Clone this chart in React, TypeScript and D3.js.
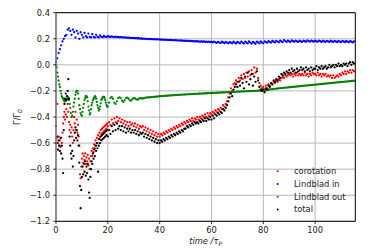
import React from 'react'
import * as d3 from 'd3'

const W = 374
const H = 249
const margin = { left: 56, right: 18.7, top: 12.7, bottom: 27.7 }

// sampling of the torque outputs (time in orbits)
const step = 0.5
const earlyStep = 0.25
const lateStart = 20

const lindbladIn = [
  0.00, 0.05, 0.09, 0.12, 0.15, 0.18, 0.20, 0.22, 0.23, 0.27,
  0.28, 0.26, 0.23, 0.27, 0.25, 0.21, 0.26, 0.24, 0.20, 0.25,
  0.23, 0.21, 0.245, 0.22, 0.21, 0.24, 0.215, 0.21, 0.235, 0.215,
  0.21, 0.23, 0.215, 0.21, 0.225, 0.215, 0.212, 0.222, 0.215, 0.214,
  0.22, 0.216, 0.214, 0.218, 0.215, 0.213, 0.216, 0.212, 0.214, 0.211,
  0.213, 0.21, 0.211, 0.209, 0.21, 0.207, 0.209, 0.206, 0.207, 0.205,
  0.206, 0.204, 0.205, 0.202, 0.204, 0.201, 0.202, 0.2, 0.201, 0.199,
  0.2, 0.198, 0.199, 0.197, 0.198, 0.196, 0.197, 0.195, 0.196, 0.195,
  0.195, 0.193, 0.194, 0.192, 0.193, 0.191, 0.192, 0.19, 0.191, 0.189,
  0.19, 0.188, 0.189, 0.187, 0.188, 0.186, 0.187, 0.185, 0.186, 0.184,
  0.185, 0.183, 0.184, 0.182, 0.183, 0.181, 0.182, 0.18, 0.181, 0.179,
  0.18, 0.178, 0.18, 0.177, 0.179, 0.176, 0.178, 0.175, 0.178, 0.175,
  0.177, 0.172, 0.178, 0.173, 0.168, 0.176, 0.171, 0.167, 0.177, 0.172,
  0.166, 0.176, 0.171, 0.165, 0.175, 0.17, 0.166, 0.177, 0.171, 0.164,
  0.176, 0.17, 0.165, 0.178, 0.171, 0.163, 0.177, 0.17, 0.165, 0.179,
  0.171, 0.163, 0.176, 0.17, 0.162, 0.178, 0.172, 0.164, 0.179, 0.171,
  0.165, 0.18, 0.175, 0.17, 0.182, 0.176, 0.171, 0.183, 0.177, 0.172,
  0.184, 0.178, 0.173, 0.185, 0.179, 0.175, 0.19, 0.182, 0.176, 0.186,
  0.18, 0.176, 0.187, 0.181, 0.177, 0.186, 0.18, 0.176, 0.185, 0.18,
  0.176, 0.186, 0.181, 0.177, 0.187, 0.182, 0.178, 0.186, 0.181, 0.178,
  0.185, 0.18, 0.177, 0.186, 0.181, 0.176, 0.185, 0.18, 0.176, 0.184,
  0.18, 0.176, 0.185, 0.179, 0.175, 0.184, 0.179, 0.174, 0.183, 0.178,
  0.174, 0.184, 0.179, 0.174, 0.183, 0.178, 0.173, 0.182, 0.177, 0.172, 0.18,
]

// first 20 orbits every 0.25, then every 0.5
const lindbladOutEarly = [
  0.02, -0.02, -0.06, -0.09, -0.12, -0.15, -0.17, -0.20, -0.22, -0.24,
  -0.25, -0.26, -0.27, -0.28, -0.28, -0.275, -0.27, -0.26, -0.26, -0.25,
  -0.27, -0.30, -0.33, -0.37, -0.40, -0.39, -0.36, -0.32, -0.29, -0.26,
  -0.23, -0.21, -0.20, -0.20, -0.22, -0.26, -0.31, -0.34, -0.37, -0.385,
  -0.39, -0.36, -0.33, -0.30, -0.27, -0.255, -0.24, -0.24, -0.25, -0.28,
  -0.32, -0.35, -0.38, -0.37, -0.34, -0.31, -0.29, -0.27, -0.26, -0.25,
  -0.24, -0.245, -0.26, -0.285, -0.31, -0.33, -0.35, -0.34, -0.32, -0.295,
  -0.27, -0.26, -0.25, -0.245, -0.245, -0.255, -0.27, -0.29, -0.31, -0.32,
]

const lindbladOutLate = [
  -0.32, -0.29, -0.255, -0.245, -0.26, -0.29, -0.30, -0.28, -0.255, -0.25,
  -0.255, -0.275, -0.285, -0.27, -0.255, -0.252, -0.26, -0.272, -0.275, -0.262,
  -0.255, -0.258, -0.265, -0.267, -0.26, -0.255, -0.256, -0.258, -0.255, -0.252,
  -0.251, -0.25, -0.249, -0.248, -0.247, -0.246, -0.245, -0.244, -0.243, -0.242,
  -0.241, -0.24, -0.24, -0.239, -0.238, -0.237, -0.237, -0.236, -0.235, -0.234,
  -0.234, -0.233, -0.232, -0.232, -0.231, -0.23, -0.23, -0.229, -0.228, -0.228,
  -0.227, -0.226, -0.226, -0.225, -0.225, -0.224, -0.223, -0.223, -0.222, -0.222,
  -0.221, -0.221, -0.22, -0.22, -0.219, -0.219, -0.218, -0.218, -0.217, -0.217,
  -0.216, -0.216, -0.215, -0.215, -0.214, -0.214, -0.213, -0.213, -0.212, -0.212,
  -0.211, -0.211, -0.21, -0.21, -0.209, -0.209, -0.208, -0.208, -0.207, -0.207,
  -0.206, -0.206, -0.205, -0.205, -0.204, -0.204, -0.203, -0.203, -0.202, -0.202,
  -0.201, -0.201, -0.2, -0.2, -0.199, -0.199, -0.198, -0.198, -0.197, -0.196,
  -0.195, -0.194, -0.193, -0.192, -0.19, -0.189, -0.188, -0.187, -0.185, -0.184,
  -0.183, -0.182, -0.18, -0.179, -0.178, -0.177, -0.176, -0.175, -0.174, -0.173,
  -0.172, -0.171, -0.17, -0.169, -0.168, -0.167, -0.166, -0.165, -0.164, -0.163,
  -0.162, -0.161, -0.16, -0.159, -0.158, -0.157, -0.156, -0.155, -0.154, -0.153,
  -0.152, -0.151, -0.15, -0.149, -0.148, -0.147, -0.146, -0.145, -0.144, -0.143,
  -0.142, -0.141, -0.14, -0.139, -0.138, -0.137, -0.136, -0.135, -0.134, -0.133,
  -0.132, -0.131, -0.13, -0.129, -0.128, -0.127, -0.126, -0.125, -0.124, -0.123, -0.122,
]

const corotationEarly = [
  -0.28, -0.56, -0.30, -0.60, -0.55, -0.62, -0.58, -0.63, -0.56, -0.60,
  -0.52, -0.45, -0.40, -0.36, -0.42, -0.38, -0.34, -0.40, -0.30, -0.36,
  -0.44, -0.50, -0.46, -0.52, -0.48, -0.55, -0.60, -0.50, -0.40, -0.45,
  -0.36, -0.50, -0.42, -0.52, -0.46, -0.55, -0.62, -0.84, -0.87, -0.78,
  -0.72, -0.68, -0.75, -0.70, -0.73, -0.68, -0.76, -0.71, -0.74, -0.69,
  -0.77, -0.72, -0.80, -0.74, -0.70, -0.66, -0.70, -0.64, -0.67, -0.61,
  -0.64, -0.58, -0.62, -0.56, -0.60, -0.54, -0.57, -0.52, -0.55, -0.50,
  -0.53, -0.49, -0.52, -0.48, -0.51, -0.47, -0.50, -0.46, -0.49, -0.45,
]

const corotationLate = [
  -0.47, -0.44, -0.46, -0.42, -0.45, -0.41, -0.44, -0.40, -0.43, -0.41,
  -0.44, -0.42, -0.45, -0.43, -0.46, -0.44, -0.47, -0.44, -0.46, -0.45,
  -0.47, -0.45, -0.48, -0.46, -0.49, -0.47, -0.48, -0.47, -0.50, -0.48,
  -0.51, -0.49, -0.52, -0.50, -0.53, -0.51, -0.54, -0.52, -0.55, -0.53,
  -0.55, -0.53, -0.54, -0.52, -0.53, -0.51, -0.52, -0.50, -0.51, -0.49,
  -0.50, -0.48, -0.49, -0.47, -0.48, -0.46, -0.47, -0.45, -0.46, -0.44,
  -0.45, -0.43, -0.44, -0.42, -0.43, -0.41, -0.43, -0.41, -0.42, -0.40,
  -0.42, -0.40, -0.41, -0.39, -0.40, -0.38, -0.40, -0.37, -0.39, -0.37,
  -0.38, -0.36, -0.37, -0.35, -0.36, -0.34, -0.35, -0.33, -0.34, -0.31,
  -0.32, -0.30, -0.28, -0.25, -0.22, -0.18, -0.20, -0.15, -0.14, -0.12,
  -0.13, -0.10, -0.12, -0.08, -0.11, -0.07, -0.10, -0.06, -0.09, -0.05,
  -0.08, -0.04, -0.07, -0.02, -0.06, -0.03, -0.10, -0.14, -0.16, -0.18,
  -0.17, -0.19, -0.16, -0.18, -0.15, -0.16, -0.14, -0.15, -0.13, -0.14,
  -0.12, -0.13, -0.11, -0.12, -0.10, -0.09, -0.10, -0.08, -0.09, -0.08,
  -0.07, -0.08, -0.07, -0.09, -0.07, -0.08, -0.06, -0.08, -0.07, -0.08,
  -0.07, -0.08, -0.06, -0.08, -0.07, -0.09, -0.07, -0.08, -0.06, -0.07,
  -0.07, -0.08, -0.06, -0.08, -0.07, -0.09, -0.07, -0.08, -0.07, -0.09,
  -0.08, -0.09, -0.08, -0.10, -0.08, -0.10, -0.09, -0.08, -0.09, -0.07,
  -0.08, -0.06, -0.07, -0.05, -0.07, -0.05, -0.06, -0.04, -0.06, -0.04, -0.05,
]

const totalEarly = [
  -0.47, -0.60, -0.55, -0.65, -0.58, -0.62, -0.66, -0.56, -0.68, -0.62,
  -0.72, -0.83, -0.50, -0.30, -0.26, -0.22, -0.27, -0.24, -0.20, -0.11,
  -0.26, -0.55, -0.62, -0.68, -0.72, -0.66, -0.78, -0.70, -0.58, -0.52,
  -0.48, -0.56, -0.50, -0.58, -0.54, -0.62, -0.75, -0.93, -1.10, -0.96,
  -0.86, -0.78, -0.84, -0.76, -0.82, -0.74, -0.85, -0.78, -0.83, -0.76,
  -0.88, -0.98, -1.02, -0.86, -0.80, -0.74, -0.76, -0.68, -0.72, -0.65,
  -0.70, -0.62, -0.66, -0.60, -0.64, -0.82, -0.62, -0.57, -0.60, -0.55,
  -0.58, -0.54, -0.57, -0.53, -0.56, -0.52, -0.55, -0.51, -0.54, -0.50,
]

const totalLate = [
  -0.55, -0.50, -0.53, -0.47, -0.51, -0.46, -0.50, -0.45, -0.49, -0.47,
  -0.50, -0.47, -0.51, -0.48, -0.52, -0.49, -0.51, -0.49, -0.52, -0.50,
  -0.52, -0.50, -0.53, -0.51, -0.54, -0.52, -0.53, -0.52, -0.55, -0.53,
  -0.56, -0.54, -0.57, -0.55, -0.58, -0.56, -0.59, -0.57, -0.60, -0.58,
  -0.60, -0.58, -0.59, -0.57, -0.58, -0.56, -0.57, -0.55, -0.56, -0.54,
  -0.55, -0.53, -0.54, -0.52, -0.53, -0.51, -0.52, -0.50, -0.51, -0.49,
  -0.49, -0.47, -0.48, -0.46, -0.47, -0.45, -0.46, -0.44, -0.45, -0.44,
  -0.45, -0.43, -0.44, -0.42, -0.43, -0.41, -0.43, -0.41, -0.42, -0.40,
  -0.42, -0.39, -0.41, -0.38, -0.39, -0.37, -0.38, -0.36, -0.37, -0.34,
  -0.35, -0.33, -0.31, -0.28, -0.25, -0.22, -0.24, -0.19, -0.17, -0.15,
  -0.17, -0.13, -0.16, -0.10, -0.14, -0.18, -0.09, -0.13, -0.06, -0.15,
  -0.11, -0.07, -0.16, -0.09, -0.13, -0.05, -0.12, -0.17, -0.19, -0.20,
  -0.19, -0.21, -0.18, -0.19, -0.16, -0.17, -0.14, -0.15, -0.12, -0.13,
  -0.11, -0.12, -0.09, -0.10, -0.07, -0.08, -0.06, -0.07, -0.05, -0.06,
  -0.04, -0.06, -0.03, -0.05, -0.04, -0.06, -0.03, -0.05, -0.04, -0.02,
  -0.04, -0.03, -0.05, -0.02, -0.04, -0.03, -0.05, -0.02, -0.04, -0.03,
  -0.03, -0.01, -0.04, -0.02, -0.03, -0.01, -0.03, -0.02, -0.01, -0.03,
  -0.02, 0.00, -0.02, -0.01, 0.00, -0.02, 0.00, -0.01, 0.01, -0.01,
  0.00, -0.01, 0.01, 0.00, 0.01, -0.01, 0.01, 0.02, 0.00, 0.02, 0.01,
]

const xTicks = [0, 20, 40, 60, 80, 100]
const yTicks = [0.4, 0.2, 0.0, -0.2, -0.4, -0.6, -0.8, -1.0, -1.2]
const labels = ['corotation', 'Lindblad in', 'Lindblad out', 'total']
const colors = ['#ff0000', '#0000ff', '#008000', '#000000']

const font = 'DejaVu Sans, sans-serif'

type Pt = [number, number]
const toPoints = (vals: number[], t0: number, dt: number): Pt[] =>
  vals.map((v, i) => [t0 + i * dt, v] as Pt)

export default function App() {
  const x = d3.scaleLinear().domain([0, 115.5]).range([margin.left, W - margin.right])
  const y = d3.scaleLinear().domain([-1.2, 0.4]).range([H - margin.bottom, margin.top])
  const fmt = d3.format('.1f')

  const series: Pt[][] = [
    toPoints(corotationEarly, 0, earlyStep).concat(toPoints(corotationLate, lateStart, step)),
    toPoints(lindbladIn, 0, step),
    toPoints(lindbladOutEarly, 0, earlyStep).concat(toPoints(lindbladOutLate, lateStart, step)),
    toPoints(totalEarly, 0, earlyStep).concat(toPoints(totalLate, lateStart, step)),
  ]

  const [x0, x1] = x.range()
  const [y0, y1] = y.range()

  return (
    <svg width={W} height={H} style={{ position: 'absolute', left: 0, top: 0, background: '#fff' }}
      fontFamily={font}>
      {/* grid */}
      <g stroke="#b0b0b0" strokeWidth={0.9}>
        {xTicks.map(t => <line key={'gx' + t} x1={x(t)} x2={x(t)} y1={y1} y2={y0} />)}
        {yTicks.map(t => <line key={'gy' + t} x1={x0} x2={x1} y1={y(t)} y2={y(t)} />)}
      </g>

      {series.map((pts, si) => (
        <g key={si} fill={colors[si]}>
          {pts.map((p, i) => <circle key={i} cx={x(p[0])} cy={y(p[1])} r={1.15} />)}
        </g>
      ))}

      {/* spines */}
      <g fill="none" strokeWidth={1}>
        <line x1={x0} x2={x1} y1={y1} y2={y1} stroke="#000" />
        <line x1={x1} x2={x1} y1={y1} y2={y0} stroke="#000" />
        <line x1={x0} x2={x1} y1={y0} y2={y0} stroke="#000" />
        <line x1={x0} x2={x0} y1={y1} y2={y0} stroke="#7a7a7a" strokeWidth={1.6} />
      </g>

      {/* axes */}
      <g fontSize={8.3} fill="#222">
        {xTicks.map(t => (
          <g key={'xt' + t}>
            <line x1={x(t)} x2={x(t)} y1={y0} y2={y0 + 2.8} stroke="#000" strokeWidth={0.8} />
            <text x={x(t)} y={y0 + 11.2} textAnchor="middle">{t}</text>
          </g>
        ))}
        {yTicks.map(t => (
          <g key={'yt' + t}>
            <line x1={x0} x2={x0 - 2.8} y1={y(t)} y2={y(t)} stroke="#000" strokeWidth={0.8} />
            <text x={x0 - 6} y={y(t)} dy="0.35em" textAnchor="end">{fmt(t)}</text>
          </g>
        ))}
      </g>

      <text x={(x0 + x1) / 2} y={H - 5} textAnchor="middle" fontSize={8.3} fill="#222" fontStyle="italic">
        time /τ<tspan fontSize={6} dy={1.8}>P</tspan>
      </text>

      <text transform={`translate(20, ${(y0 + y1) / 2}) rotate(-90)`} textAnchor="middle" fontSize={8.3} fill="#222">
        Γ/Γ<tspan fontSize={6} dy={1.8} fontStyle="italic">0</tspan>
      </text>

      {/* legend */}
      <g fontSize={8.3} fill="#222">
        {labels.map((l, i) => (
          <g key={l} transform={`translate(277.7, ${171.3 + i * 12.7})`}>
            <circle cx={0} cy={0} r={1} fill={colors[i]} />
            <text x={16.3} y={0} dy="0.35em">{l}</text>
          </g>
        ))}
      </g>
    </svg>
  )
}
